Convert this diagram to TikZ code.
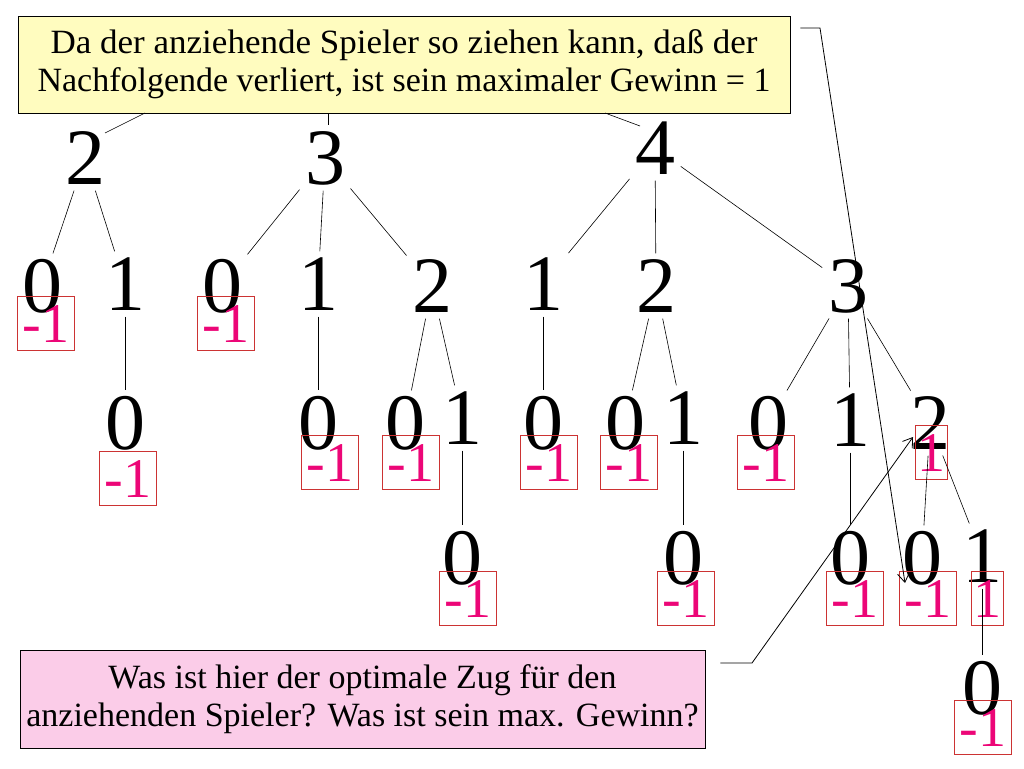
\documentclass[tikz,border=0pt]{standalone}
\usepackage{fontspec}
\setmainfont{Liberation Serif}
\usetikzlibrary{arrows.meta}
\begin{document}
\begin{tikzpicture}[x=1pt,y=-1pt,
  dg/.style={font=\fontsize{80}{80}\selectfont, text height=53pt, text depth=0pt, inner sep=4pt, anchor=center},
  vb/.style={draw=red!75!black!80, line width=0.6pt, font=\fontsize{56}{56}\selectfont, text=magenta!80!red, text height=38pt, text depth=0pt, inner sep=0pt, minimum width=57pt, minimum height=54pt},
  wb/.style={vb, minimum width=32pt},
  ed/.style={line width=0.6pt, shorten >=2pt, shorten <=2pt},
  arr/.style={line width=0.8pt, -{Straight Barb[length=9pt,width=12pt]}},
  note/.style={draw, line width=0.8pt, font=\fontsize{34}{38}\selectfont, align=center, inner sep=0pt}]
\useasboundingbox (0,0) rectangle (1024,768);
% notes
\node[note, fill=yellow!25, minimum width=772pt, minimum height=97pt] (top) at (404,64.5)
 {\scalebox{1.03}[1]{Da der anziehende Spieler so ziehen kann, daß der}\\Nachfolgende verliert, ist sein maximaler Gewinn = 1};
\node[note, fill=magenta!20, minimum width=685pt, minimum height=98pt] (bot) at (362.5,699)
 {Was ist hier der optimale Zug für den\\anziehenden Spieler? Was ist sein max. Gewinn?};
% level 1
\node[dg] (a) at (85,158) {2};
\node[dg] (b) at (325,158) {3};
\node[dg] (c) at (655,148) {4};
% level 2
\node[dg] (a0) at (42,286) {0};
\node[dg] (a1) at (125,284) {1};
\node[dg] (b0) at (222,286) {0};
\node[dg] (b1) at (318,284) {1};
\node[dg] (b2) at (432,286) {2};
\node[dg] (c1) at (543,284) {1};
\node[dg] (c2) at (656,286) {2};
\node[dg] (c3) at (848,286) {3};
% level 3
\node[dg] (a10) at (125,423) {0};
\node[dg] (b10) at (318,423) {0};
\node[dg] (b20) at (405,423) {0};
\node[dg] (b21) at (462,418) {1};
\node[dg] (c10) at (543,423) {0};
\node[dg] (c20) at (625,423) {0};
\node[dg] (c21) at (683,418) {1};
\node[dg] (c30) at (768,423) {0};
\node[dg] (c31) at (850,420) {1};
\node[dg] (c32) at (930,423) {2};
% level 4
\node[dg] (b210) at (462,558) {0};
\node[dg] (c210) at (683,558) {0};
\node[dg] (c310) at (850,558) {0};
\node[dg] (c320) at (922,558) {0};
\node[dg] (c321) at (982,556) {1};
% level 5
\node[dg] (c3210) at (982,688) {0};
% value boxes
\node[vb] (va0) at (46,323) {-1};
\node[vb] (vb0) at (226,323) {-1};
\node[vb] (va10) at (128,478) {-1};
\node[vb] (vb10) at (330,462) {-1};
\node[vb] (vb20) at (411,462) {-1};
\node[vb] (vc10) at (549,462) {-1};
\node[vb] (vc20) at (629,462) {-1};
\node[vb] (vc30) at (766,462) {-1};
\node[wb] (vc32) at (931,452) {1};
\node[vb] (vb210) at (468,598) {-1};
\node[vb] (vc210) at (686,598) {-1};
\node[vb] (vc310) at (855,598) {-1};
\node[vb] (vc320) at (928,598) {-1};
\node[wb] (vc321) at (987,598) {1};
\node[vb] (vc3210) at (983,727) {-1};
% edges
\draw[line width=0.6pt] (145,113) -- (105,133);
\draw[line width=0.6pt] (328,113) -- (328,125);
\draw[line width=0.6pt] (605,113) -- (640,126);
\foreach \p/\c in {a/a0,a/a1,b/b0,b/b1,b/b2,c/c1,c/c2,c/c3,
  a1/a10,b1/b10,b2/b20,b2/b21,c1/c10,c2/c20,c2/c21,c3/c30,c3/c31,c3/c32,
  b21/b210,c21/c210,c31/c310,c32/c320,c32/c321,c321/c3210}
  \draw[ed] (\p) -- (\c);
% arrows
\coordinate (t1) at (820,28);
\coordinate (t2) at (752,663);
\coordinate (h1) at (905,583);
\coordinate (h2) at (913,437);
\draw[arr] (top.east |- t1) ++(10,0) -- (t1) -- (h1);
\draw[arr] (bot.east |- t2) ++(15,0) -- (t2) -- (h2);
\end{tikzpicture}
\end{document}
